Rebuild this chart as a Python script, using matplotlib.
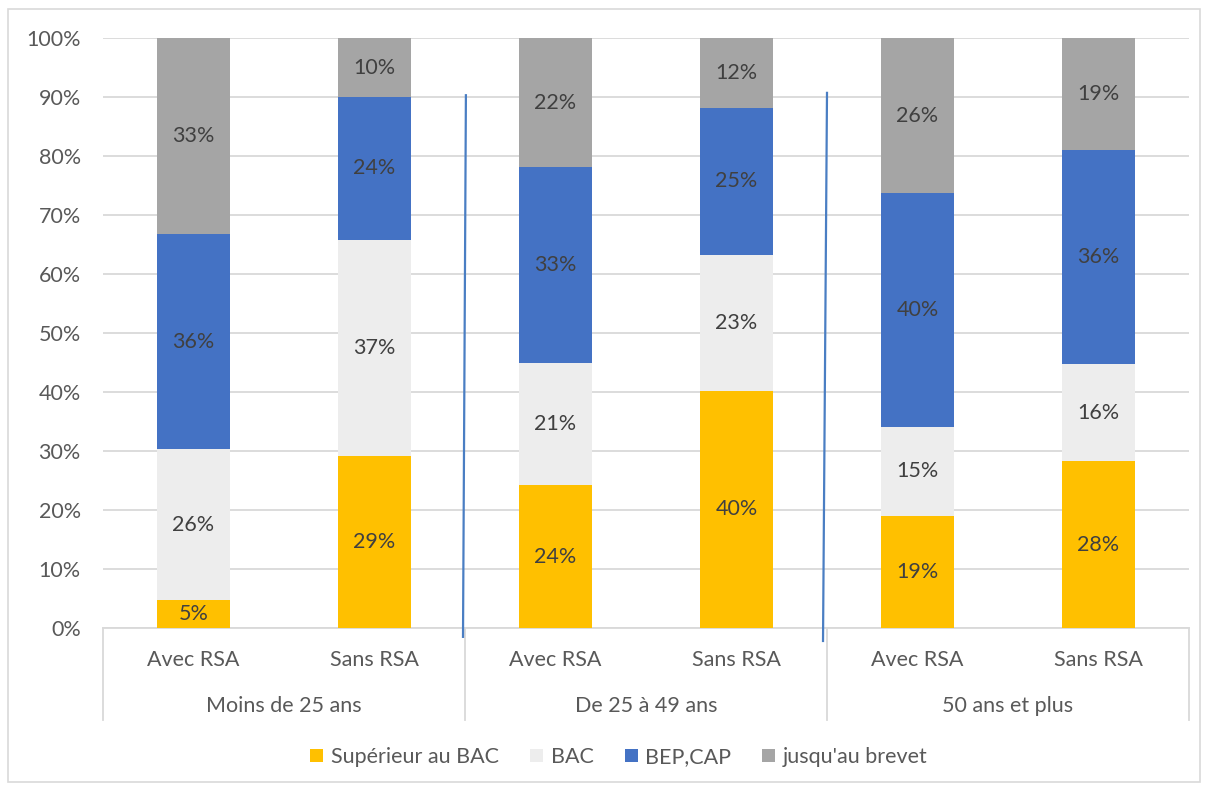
import matplotlib.pyplot as plt
from matplotlib.patches import Rectangle
from matplotlib.lines import Line2D
import numpy as np

plt.rcParams['font.family'] = ['Lato', 'DejaVu Sans']

groups = ["Moins de 25 ans", "De 25 à 49 ans", "50 ans et plus"]
subcats = ["Avec RSA", "Sans RSA"]
series = ["Supérieur au BAC", "BAC", "BEP,CAP", "jusqu'au brevet"]
sup_bac = [4.7, 29.2, 24.2, 40.2, 19.0, 28.3]
bac = [25.6, 36.6, 20.7, 23.0, 15.1, 16.4]
bep_cap = [36.4, 24.2, 33.2, 25.0, 39.6, 36.4]
brevet = [33.3, 10.0, 21.9, 11.8, 26.3, 18.9]
yticks = [0, 10, 20, 30, 40, 50, 60, 70, 80, 90, 100]

colors = ["#FFC000", "#EDEDED", "#4472C4", "#A5A5A5"]
text_col = "#595959"
lab_col = "#404040"
grid_col = "#D9D9D9"
FS = 15.5

W, H = 1208, 789
fig = plt.figure(figsize=(W / 100, H / 100), dpi=100)
L, R, T, B = 103, 1189, 38, 628
ax = fig.add_axes([L / W, 1 - B / H, (R - L) / W, (B - T) / H])

n = len(sup_bac)
x = np.arange(n)
bottom = np.zeros(n)
for vals, col, name in zip([sup_bac, bac, bep_cap, brevet], colors, series):
    vals = np.array(vals)
    ax.bar(x, vals, 0.4, bottom=bottom, color=col, label=name, zorder=3)
    for xi, v, b in zip(x, vals, bottom):
        ax.text(xi, b + v / 2, f"{round(v):d}%", ha='center', va='center',
                fontsize=FS, color=lab_col, zorder=4)
    bottom += vals

ax.set_xlim(-0.5, n - 0.5)
ax.set_ylim(0, 100)
ax.set_yticks(yticks)
ax.set_yticklabels([f"{t}%" for t in yticks])
ax.tick_params(axis='y', length=0, pad=16, labelsize=FS, labelcolor=text_col)
ax.tick_params(axis='x', length=0, labelbottom=False)
ax.grid(axis='y', color=grid_col, linewidth=1.3, zorder=0)
for s in ['top', 'right', 'left']:
    ax.spines[s].set_visible(False)
ax.spines['bottom'].set_color(grid_col)
ax.spines['bottom'].set_linewidth(1.3)

trans = ax.get_xaxis_transform()
# sub-category labels
for i in range(n):
    ax.text(x[i], -0.055, subcats[i % 2], transform=trans, ha='center', va='center',
            fontsize=FS, color=text_col)
# group labels
for g, name in enumerate(groups):
    ax.text(2 * g + 0.5, -0.133, name, transform=trans, ha='center', va='center',
            fontsize=FS, color=text_col)
# separators
for sx in [-0.5, 1.5, 3.5, 5.5]:
    ax.add_line(Line2D([sx, sx], [0, -0.156], transform=trans, color=grid_col,
                       linewidth=1.3, clip_on=False))

# blue drawn lines
ax.add_line(Line2D([1.505, 1.489], [0.903, -0.015], transform=trans, color="#4A7EC3",
                   linewidth=1.6, clip_on=False, zorder=5))
ax.add_line(Line2D([3.5, 3.478], [0.907, -0.022], transform=trans, color="#4A7EC3",
                   linewidth=1.6, clip_on=False, zorder=5))

# legend
leg = fig.legend(loc='center', bbox_to_anchor=(619 / W, 1 - 757 / H), ncol=4,
                 frameon=False, fontsize=FS, handlelength=0.6, handleheight=0.6,
                 handletextpad=0.35, columnspacing=1.45)
for t in leg.get_texts():
    t.set_color(text_col)

# outer border
fig.patches.append(Rectangle((8 / W, 1 - 782 / H), 1192 / W, 773 / H, transform=fig.transFigure,
                             fill=False, edgecolor=grid_col, linewidth=1.2))

fig.savefig("out.png", dpi=100)
